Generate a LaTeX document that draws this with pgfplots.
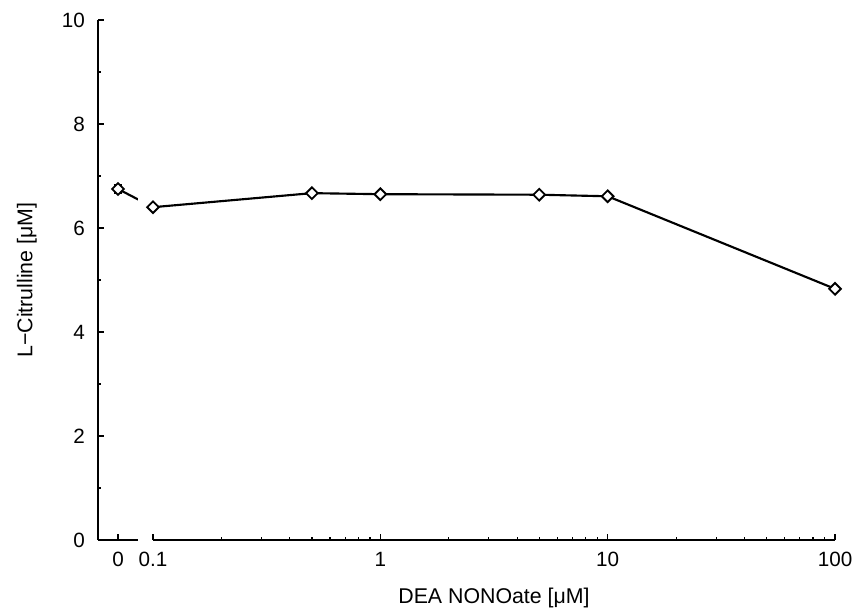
\documentclass[border=0pt]{standalone}
\usepackage{fontspec}
\setmainfont{Liberation Sans}
\usepackage{pgfplots}
\pgfplotsset{compat=1.18}

\pgfplotsset{
  brk/.style={
    scale only axis, height=390pt,
    anchor=south west,
    ymin=0, ymax=10,
    axis line style={line width=1.5pt, -},
    tick style={line width=0.9pt, black},
    major tick length=4.5pt, minor tick length=2.5pt,
    tick align=inside,
    ticklabel style={font=\fontsize{15.5}{18}\selectfont},
    /pgf/number format/assume math mode=true,
    label style={font=\fontsize{16}{19}\selectfont},
  },
  pt/.style={
    line width=1.6pt, black,
    mark=square*, mark size=3.1pt,
    mark options={rotate=45, fill=white, solid, line width=1.4pt},
  },
}

\begin{document}
\begin{tikzpicture}
\path[use as bounding box] (0,0) rectangle (642.75pt,457.5pt);

% short segment for the control (0)
\begin{axis}[brk,
  at={(73.5pt,52.5pt)}, width=30pt,
  xmin=-1, xmax=1,
  axis x line*=bottom, axis y line*=left,
  xtick={0}, xticklabels={0},
  ytick={0,2,...,10}, minor ytick={1,3,...,9},
  yticklabel style={xshift=-6.3pt},
  xticklabel style={yshift=-5.5pt},
  ylabel={L−Citrulline [μM]},
  ylabel style={yshift=12pt},
]
\addplot[line width=1.6pt, black] coordinates {(0,6.75) (1.75,6.40)};
\addplot[pt, only marks,
  error bars/.cd, y dir=both, y explicit,
  error bar style={line width=1.4pt},
  error mark options={rotate=90, mark size=3.2pt, line width=1.4pt}]
  coordinates {(0,6.75) +- (0,0.08)};
\end{axis}

% log segment
\begin{axis}[brk,
  at={(114.75pt,52.5pt)}, width=511.5pt,
  xmode=log, xmin=0.1, xmax=100,
  axis x line*=bottom, axis y line=none,
  xtick={0.1,1,10,100}, xticklabels={0.1,1,10,100},
  xticklabel style={yshift=-5.5pt},
  xlabel={DEA NONOate [μM]},
  xlabel style={yshift=-9pt},
]
\addplot[pt] coordinates {
  (0.1,6.40) (0.5,6.67) (1,6.65) (5,6.64) (10,6.61) (100,4.83)
};
\end{axis}
\end{tikzpicture}
\end{document}
